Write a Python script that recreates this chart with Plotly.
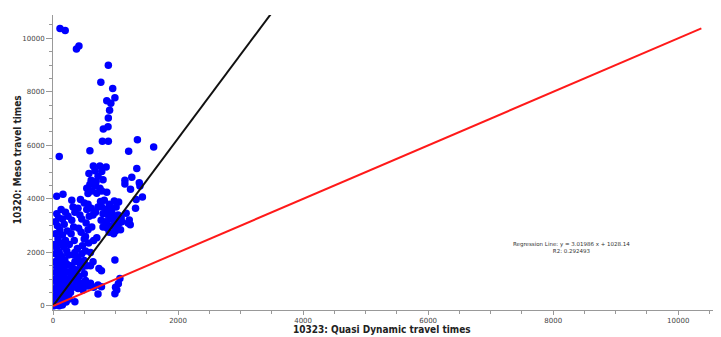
import plotly.graph_objects as go

# Scatter data: (Quasi Dynamic travel time, Meso travel time)
outlier_x = [112, 195, 375, 415, 885, 765, 955, 990, 860, 925, 905, 885, 880, 805, 790, 885, 100, 590, 1210, 1350, 1610,
             1340, 1260, 1150, 1150, 1380, 1390, 1240, 1430, 1330, 1320, 1170, 1220, 1235, 1100, 1200]
outlier_y = [10370, 10290, 9600, 9710, 8990, 8360, 8120, 7780, 7670, 7570, 7310, 7020, 6700, 6610, 6150, 6150, 5580, 5800, 5780, 6210, 5940,
             5140, 4810, 4700, 4560, 4600, 4480, 4360, 4070, 3980, 3650, 3460, 3210, 3030, 3150, 3100]

upper_x = [645, 750, 850, 670, 780, 575, 800, 720, 640, 590, 680, 750, 860, 620, 700, 540, 610, 690, 560, 780]
upper_y = [5230, 5230, 5190, 5050, 5020, 4950, 4720, 4850, 4600, 4540, 4480, 4400, 4250, 4300, 4210, 4400, 4700, 4650, 4200, 4300]

right_x = [760, 820, 900, 980, 1050, 780, 850, 930, 1010, 800, 880, 960, 1040, 1090, 770, 840, 910, 990, 1060,
           800, 870, 950, 1030, 1080, 900, 970, 1000, 860, 940, 1020]
right_y = [3900, 3950, 3800, 3920, 3880, 3700, 3600, 3650, 3700, 3450, 3400, 3350, 3400, 3300, 3200, 3150, 3250, 3150, 3100,
           2950, 2900, 3000, 2950, 2850, 2750, 2700, 2800, 3050, 3500, 3250]

middle_x = [300, 440, 500, 560, 320, 400, 540, 610, 350, 430, 580, 640, 300, 460, 530,
            330, 410, 560, 620, 290, 450, 520, 340, 500, 570, 390, 470, 650, 700, 680, 720]
middle_y = [3950, 3980, 3850, 3800, 3700, 3650, 3600, 3650, 3500, 3400, 3350, 3400, 3200, 3250, 3100,
            2950, 2900, 2850, 2950, 2700, 2750, 2600, 2450, 2500, 2350, 2150, 2250, 2450, 2550, 3500, 3700]

left_x = [60, 160, 130, 60, 200, 90, 40, 150, 240, 70, 180, 110, 40, 230, 150, 80, 200, 30, 120, 260, 60, 170, 100, 220,
          40, 140, 250, 80, 190, 30, 120, 230, 60, 160, 280, 100, 200, 40, 140, 260, 80, 180, 30, 120, 220, 300, 60, 160,
          260, 100, 200, 30, 140, 240, 320, 70, 180, 280, 40, 120, 220, 20, 90, 170, 260, 50, 130, 210, 10, 80, 150, 30, 100, 5]
left_y = [4100, 4170, 3600, 3450, 3500, 3300, 3150, 3250, 3350, 3000, 3050, 2850, 2700, 2800, 2650, 2500, 2450, 2300, 2350, 2300, 2150, 2200, 2000, 2050,
          1950, 1850, 1900, 1750, 1700, 1650, 1600, 1550, 1450, 1480, 1500, 1350, 1300, 1250, 1200, 1250, 1100, 1080, 1000, 950, 1000, 1050, 850, 820,
          860, 720, 700, 650, 600, 620, 700, 520, 480, 500, 400, 380, 350, 280, 250, 230, 260, 150, 120, 150, 80, 60, 40, 20, 10, 5]

low_x = [330, 400, 460, 350, 430, 500, 320, 390, 470, 540, 350, 420, 500, 370, 450, 520, 400, 480, 560, 600, 640, 350, 520, 600]
low_y = [1900, 1800, 1950, 1650, 1600, 1700, 1400, 1350, 1450, 1500, 1150, 1100, 1200, 900, 850, 950, 650, 700, 750, 1500, 1650, 2000, 2050, 2000]

scatter_x = [990, 735, 775, 1070, 1045, 1000, 990, 1020, 720, 775, 720, 480, 560, 350, 600, 650]
scatter_y = [1720, 1400, 1320, 1030, 830, 700, 460, 600, 780, 720, 450, 600, 800, 160, 850, 700]

xs = outlier_x + upper_x + right_x + middle_x + left_x + low_x + scatter_x
ys = outlier_y + upper_y + right_y + middle_y + left_y + low_y + scatter_y

drawn_slope = 3.13      # black line as drawn in the chart (through origin)
reg_text = "Regression Line: y = 3.01986 x + 1028.14<br>R2: 0.292493"
x_title = "10323: Quasi Dynamic travel times"
y_title = "10320: Meso travel times"

ymax = max(ys)
black_x = [0, 3600]
black_y = [v * drawn_slope for v in black_x]
red_x = [0, ymax]
red_y = [0, ymax]

fig = go.Figure()
fig.add_trace(go.Scatter(x=xs, y=ys, mode="markers",
                         marker=dict(color="#0000ff", size=7.5, line=dict(width=0)),
                         showlegend=False, hoverinfo="skip"))
fig.add_trace(go.Scatter(x=black_x, y=black_y, mode="lines",
                         line=dict(color="#111111", width=2), showlegend=False))
fig.add_trace(go.Scatter(x=red_x, y=red_y, mode="lines",
                         line=dict(color="#ff1a1a", width=2), showlegend=False))

tickfont = dict(family="DejaVu Sans, Verdana, sans-serif", size=7, color="#444444")
titlefont = dict(family="DejaVu Sans Condensed, Liberation Sans Narrow, sans-serif", size=10,
                 color="#222222", weight="bold")

axis_common = dict(showgrid=False, zeroline=False, showline=True, linecolor="#999999", linewidth=1,
                   ticks="outside", tickcolor="#999999", tickfont=tickfont, automargin=False,
                   exponentformat="none", separatethousands=False, tickformat="d")

fig.update_layout(
    width=713, height=329,
    margin=dict(l=45, r=4, t=7, b=27, autoexpand=False),
    paper_bgcolor="white", plot_bgcolor="white",
    xaxis=dict(range=[0, 10620], dtick=2000, tick0=0, ticklen=4,
               minor=dict(dtick=500, ticks="outside", ticklen=3, tickcolor="#999999", showgrid=False),
               **axis_common),
    yaxis=dict(range=[-150, 10870], dtick=2000, tick0=0, ticklen=6,
               minor=dict(dtick=500, ticks="outside", ticklen=3, tickcolor="#999999", showgrid=False),
               **axis_common),
    annotations=[
        dict(x=8290, y=2170, xref="x", yref="y", text=reg_text, showarrow=False,
             font=dict(family="DejaVu Sans, sans-serif", size=5.5, color="#333333"), align="center"),
        dict(x=0.495, y=-0.066, xref="paper", yref="paper", text=x_title, showarrow=False,
             font=titlefont, xanchor="center", yanchor="middle"),
        dict(x=-0.054, y=0.508, xref="paper", yref="paper", text=y_title, showarrow=False,
             font=titlefont, textangle=-90, xanchor="center", yanchor="middle"),
    ],
)

fig.write_html("out.html")
